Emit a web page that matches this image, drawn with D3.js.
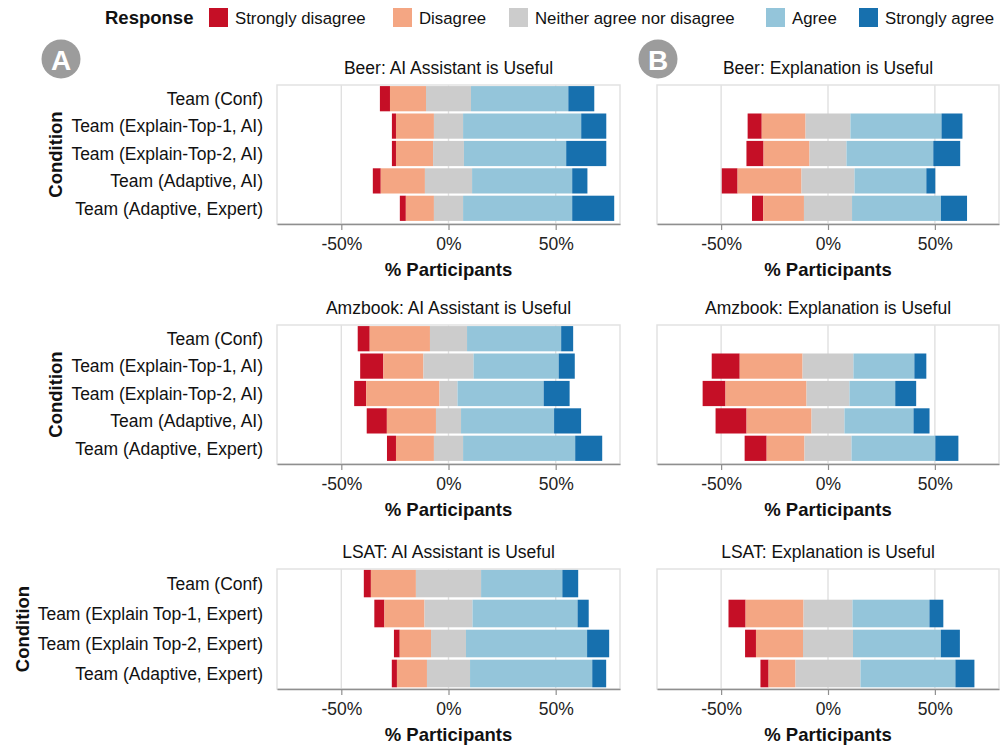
<!DOCTYPE html>
<html>
<head>
<meta charset="utf-8">
<script src="https://cdn.jsdelivr.net/npm/d3@7"></script>
<style>
  body { margin: 0; background: #fff; }
  text { font-family: "Liberation Sans", Arial, Helvetica, sans-serif; }
</style>
</head>
<body>
<div id="app"></div>
<script>
const responses = ['Strongly disagree', 'Disagree', 'Neither agree nor disagree', 'Agree', 'Strongly agree'];
const colors = ['#c50f26', '#f4a683', '#cccccc', '#94c5da', '#1770ae'];

const condsAI = ['Team (Conf)', 'Team (Explain-Top-1, AI)', 'Team (Explain-Top-2, AI)',
  'Team (Adaptive, AI)', 'Team (Adaptive, Expert)'];
const condsLsat = ['Team (Conf)', 'Team (Explain Top-1, Expert)', 'Team (Explain Top-2, Expert)',
  'Team (Adaptive, Expert)'];
const tickVals = [-50, 0, 50];

// % participants per response, in the order of `responses`
const beerAssistant = [
  [4.7, 16.8, 21.0, 45.4, 12.1],
  [1.9, 17.7, 13.6, 55.1, 11.7],
  [1.9, 17.3, 14.4, 47.7, 18.7],
  [3.7, 20.6, 22.0, 46.7, 7.1],
  [2.8, 13.1, 13.6, 50.9, 19.6]
];
// no explanation in Team (Conf), so these start at the 2nd condition
const beerExplain = [
  [6.6, 20.5, 21.0, 42.6, 9.8],
  [8.0, 21.5, 17.3, 40.6, 12.6],
  [7.4, 29.9, 24.8, 33.6, 4.2],
  [5.2, 19.1, 22.5, 41.6, 12.2]
];
const amzAssistant = [
  [5.6, 28.1, 17.3, 43.9, 5.6],
  [10.8, 18.7, 23.4, 39.7, 7.5],
  [5.6, 34.2, 8.4, 40.2, 12.1],
  [9.4, 22.9, 11.7, 43.4, 12.6],
  [4.2, 17.7, 13.6, 52.3, 12.6]
];
const amzExplain = [
  [13.1, 29.4, 23.8, 28.5, 5.6],
  [10.7, 37.9, 20.1, 21.4, 9.8],
  [14.5, 30.4, 15.4, 32.3, 7.5],
  [10.3, 17.7, 22.0, 39.2, 10.8]
];
const lsatAssistant = [
  [3.3, 21.0, 30.4, 37.9, 7.4],
  [4.7, 18.7, 22.4, 49.0, 5.2],
  [2.7, 14.6, 16.3, 56.5, 10.3],
  [2.4, 14.0, 20.1, 57.0, 6.5]
];
const lsatExplain = [
  [8.0, 27.1, 22.9, 36.0, 6.5],
  [5.1, 22.0, 23.4, 41.1, 8.9],
  [3.8, 12.6, 30.4, 44.4, 8.9]
];

const panels = [
  { title: 'Beer: AI Assistant is Useful', row: 0, col: 0, cats: condsAI, rows: condsAI, values: beerAssistant },
  { title: 'Beer: Explanation is Useful', row: 0, col: 1, cats: condsAI, rows: condsAI.slice(1), values: beerExplain },
  { title: 'Amzbook: AI Assistant is Useful', row: 1, col: 0, cats: condsAI, rows: condsAI, values: amzAssistant },
  { title: 'Amzbook: Explanation is Useful', row: 1, col: 1, cats: condsAI, rows: condsAI.slice(1), values: amzExplain },
  { title: 'LSAT: AI Assistant is Useful', row: 2, col: 0, cats: condsLsat, rows: condsLsat, values: lsatAssistant },
  { title: 'LSAT: Explanation is Useful', row: 2, col: 1, cats: condsLsat, rows: condsLsat.slice(1), values: lsatExplain }
];

const W = 1000, H = 747;
const colX = [[277, 620], [657, 999]];
const rowY = [
  { top: 85, bottom: 224, y0: 85, y1: 222 },
  { top: 325, bottom: 464, y0: 325, y1: 462 },
  { top: 569, bottom: 689, y0: 568.5, y1: 688.5 }
];
const fs = 17.5, fsBold = 18.5;

const svg = d3.select('#app').append('svg')
  .attr('width', W)
  .attr('height', H);

// legend
let lg = svg.append('g').attr('class', 'legend');
lg.append('text')
  .attr('x', 105).attr('y', 24)
  .attr('font-size', fsBold).attr('font-weight', 'bold').attr('fill', '#111')
  .text('Response');
let legendX = [209, 393, 509, 766, 859];
responses.forEach((r, i) => {
  lg.append('rect')
    .attr('x', legendX[i]).attr('y', 8).attr('width', 19).attr('height', 19)
    .attr('fill', colors[i]);
  lg.append('text')
    .attr('x', legendX[i] + 26).attr('y', 24)
    .attr('font-size', 16.8).attr('fill', '#111')
    .text(r);
});

// A / B badges
[['A', 61], ['B', 658]].forEach(([lab, cx]) => {
  svg.append('circle').attr('cx', cx).attr('cy', 59).attr('r', 19.5).attr('fill', '#9c9c9c');
  svg.append('text')
    .attr('x', cx).attr('y', 69.5)
    .attr('text-anchor', 'middle')
    .attr('font-size', 28).attr('font-weight', 'bold').attr('fill', '#fff')
    .text(lab);
});

panels.forEach(p => {
  let ly = rowY[p.row];
  let [x0, x1] = colX[p.col];

  let x = d3.scaleLinear().domain([-80, 80]).range([x0, x1]);
  let y = d3.scaleBand().domain(p.cats).range([ly.y0, ly.y1])
    .paddingInner(0.08).paddingOuter(0.04);

  let g = svg.append('g');

  g.append('rect')
    .attr('x', x0).attr('y', ly.top)
    .attr('width', x1 - x0).attr('height', ly.bottom - ly.top)
    .attr('fill', '#fff');

  g.selectAll('.grid').data(tickVals).enter().append('line')
    .attr('x1', d => x(d)).attr('x2', d => x(d))
    .attr('y1', ly.top).attr('y2', ly.bottom)
    .attr('stroke', '#e0e0e0').attr('stroke-width', 1.4);

  // diverging stack: neutral is split around 0
  p.rows.forEach((cond, i) => {
    let v = p.values[i];
    let start = -(v[0] + v[1] + v[2] / 2);
    let segs = v.map((val, k) => {
      let s = { k: k, x0: start, x1: start + val };
      start += val;
      return s;
    });
    g.selectAll(null).data(segs).enter().append('rect')
      .attr('x', d => x(d.x0))
      .attr('width', d => x(d.x1) - x(d.x0))
      .attr('y', y(cond))
      .attr('height', y.bandwidth())
      .attr('fill', d => colors[d.k]);
  });

  g.append('rect')
    .attr('x', x0).attr('y', ly.top)
    .attr('width', x1 - x0).attr('height', ly.bottom - ly.top)
    .attr('fill', 'none').attr('stroke', '#e2e2e2').attr('stroke-width', 1.5);

  let xAxis = d3.axisBottom(x)
    .tickValues(tickVals)
    .tickSize(6)
    .tickSizeOuter(0)
    .tickPadding(8)
    .tickFormat(d => d + '%');

  let xg = g.append('g')
    .attr('transform', 'translate(0,' + ly.bottom + ')')
    .call(xAxis);
  xg.select('.domain').attr('stroke', '#8f8f8f').attr('stroke-width', 1.5);
  xg.selectAll('.tick line').attr('stroke', '#8f8f8f').attr('stroke-width', 1.2);
  xg.selectAll('.tick text')
    .attr('font-size', fs).attr('fill', '#222')
    .attr('font-family', '"Liberation Sans", Arial, sans-serif');

  g.append('text')
    .attr('x', (x0 + x1) / 2).attr('y', ly.bottom + 52)
    .attr('text-anchor', 'middle')
    .attr('font-size', fsBold).attr('font-weight', 'bold').attr('fill', '#111')
    .text('% Participants');

  g.append('text')
    .attr('x', (x0 + x1) / 2).attr('y', ly.top - 11)
    .attr('text-anchor', 'middle')
    .attr('font-size', fs).attr('fill', '#111')
    .text(p.title);

  if (p.col === 0) {
    let minX = x0;
    p.cats.forEach(c => {
      let t = g.append('text')
        .attr('x', x0 - 14)
        .attr('y', y(c) + y.bandwidth() / 2)
        .attr('dy', '0.36em')
        .attr('text-anchor', 'end')
        .attr('font-size', fs).attr('fill', '#111')
        .text(c);
      minX = Math.min(minX, t.node().getBBox().x);
    });
    let cy = (ly.top + ly.bottom) / 2;
    g.append('text')
      .attr('transform', 'translate(' + (minX - 9) + ',' + cy + ') rotate(-90)')
      .attr('text-anchor', 'middle')
      .attr('font-size', fsBold).attr('font-weight', 'bold').attr('fill', '#111')
      .text('Condition');
  }
});
</script>
</body>
</html>
